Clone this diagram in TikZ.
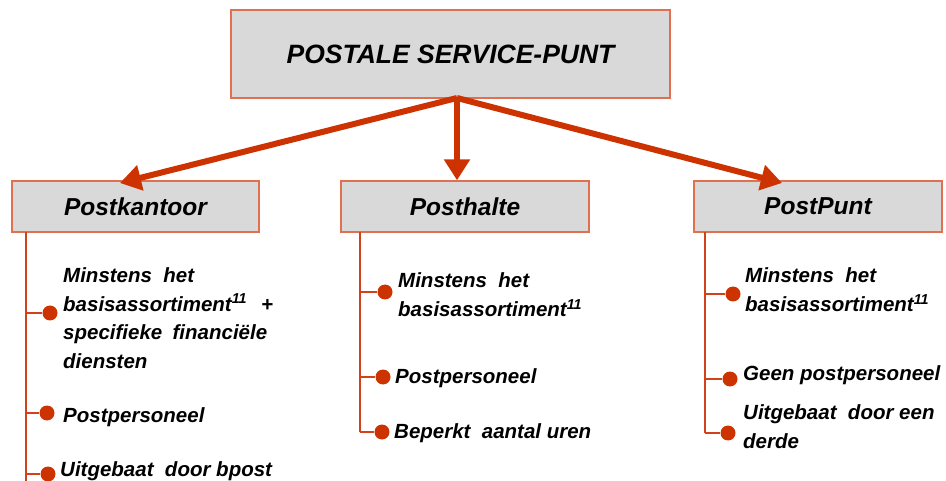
\documentclass[tikz,border=0pt]{standalone}
\usepackage{fontspec}
\setmainfont{Liberation Sans}
\usetikzlibrary{arrows.meta,calc}
\definecolor{arrowred}{HTML}{CC3300}
\definecolor{edgered}{HTML}{E07050}
\definecolor{boxgray}{HTML}{D9D9D9}
\definecolor{linered}{HTML}{D2421A}
\tikzset{
  box/.style={draw=edgered, line width=1.3pt, fill=boxgray, inner sep=0pt},
  heading/.style={font=\fontsize{24.5}{28}\selectfont\bfseries\itshape},
  title/.style={font=\fontsize{26.5}{30}\selectfont\bfseries\itshape},
  item/.style={anchor=base west, inner sep=0pt, align=left,
    font=\fontsize{20.5}{29}\selectfont\bfseries\itshape},
  bigarrow/.style={draw=arrowred, line width=6pt, -{Triangle[width=25pt,length=21pt]}},
  branch/.style={draw=linered, line width=2pt},
  dot/.style={circle, fill=arrowred, minimum size=15pt, inner sep=0pt}
}
\begin{document}
\begin{tikzpicture}[x=1pt,y=-1pt]
\useasboundingbox (0,0) rectangle (946,481);

% main box and the three kinds of service point
\node[box, title, minimum width=439pt, minimum height=88pt] (top) at (450.5,54) {POSTALE SERVICE-PUNT};
\node[box, heading, minimum width=247pt, minimum height=51pt] (kantoor) at (135.5,206.5) {Postkantoor};
\node[box, heading, minimum width=248pt, minimum height=51pt] (halte) at (465,206.5) {Posthalte};
\node[box, heading, minimum width=248pt, minimum height=51pt] (punt) at (818,206.5) {PostPunt};

% thick arrows fanning out from the main box
\coordinate (hub) at (457,98);
\coordinate (tipL) at (120,183);
\coordinate (tipR) at (782,183);
\draw[bigarrow] (hub) -- (tipL);
\draw[bigarrow] (hub) -- (hub |- halte.north);
\draw[bigarrow] (hub) -- (tipR);

% Postkantoor list (multi-line items are placed by their last baseline)
\coordinate (kv) at (26,232);
\coordinate (kend) at (26,481);
\node[dot] (k1) at (50,313) {};
\node[dot] (k2) at (47,413) {};
\node[dot] (k3) at (48,474) {};
\draw[branch] (kv) -- (kend);
\draw[branch] (kv |- k1) -- (k1);
\draw[branch] (kv |- k2) -- (k2);
\draw[branch] (kv |- k3) -- (k3);
\node[item] (kt1) at (63,369) {Minstens\ \ het\\
  \makebox[210pt][s]{basisassortiment\textsuperscript{11} +}\\
  \makebox[204pt][s]{specifieke financiële}\\
  diensten};
\node[item] (kt2) at (63,422) {Postpersoneel};
\node[item] (kt3) at (60,476) {Uitgebaat\ \ door bpost};

% Posthalte list
\coordinate (hv) at (360,232);
\node[dot] (h1) at (385,292) {};
\node[dot] (h2) at (383,377) {};
\node[dot] (h3) at (382,432) {};
\draw[branch] (hv) -- (hv |- h3);
\draw[branch] (hv |- h1) -- (h1);
\draw[branch] (hv |- h2) -- (h2);
\draw[branch] (hv |- h3) -- (h3);
\node[item] (ht1) at (398,317) {Minstens\ \ het\\ basisassortiment\textsuperscript{11}};
\node[item] (ht2) at (395,383) {Postpersoneel};
\node[item] (ht3) at (394,438) {Beperkt\ \ aantal uren};

% PostPunt list
\coordinate (pv) at (705,232);
\node[dot] (p1) at (733,294) {};
\node[dot] (p2) at (730,379) {};
\node[dot] (p3) at (728,433) {};
\draw[branch] (pv) -- (pv |- p3);
\draw[branch] (pv |- p1) -- (p1);
\draw[branch] (pv |- p2) -- (p2);
\draw[branch] (pv |- p3) -- (p3);
\node[item] (pt1) at (745,312) {Minstens\ \ het\\ basisassortiment\textsuperscript{11}};
\node[item] (pt2) at (743,381) {Geen postpersoneel};
\node[item] (pt3) at (743,448) {Uitgebaat\ \ door een\\ derde};
\end{tikzpicture}
\end{document}
